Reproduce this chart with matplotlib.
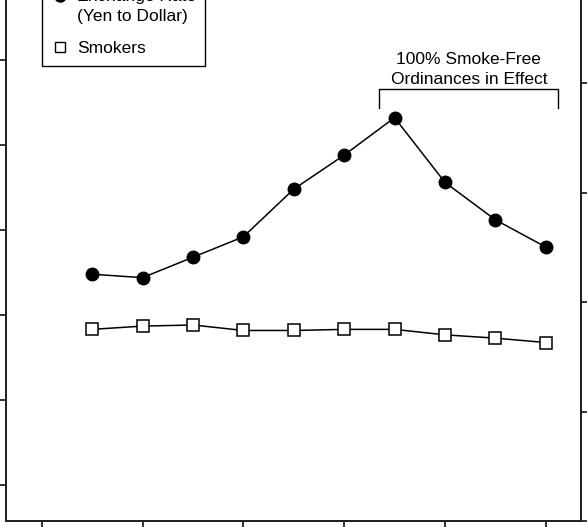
import matplotlib
matplotlib.use("Agg")
import matplotlib.pyplot as plt
from matplotlib.lines import Line2D
from matplotlib.legend_handler import HandlerLine2D

plt.rcParams['font.family'] = ['Liberation Sans', 'DejaVu Sans']

# data
years = [1989, 1990, 1991, 1992, 1993, 1994, 1995, 1996, 1997, 1998]
exchange_rate = [138, 139, 133, 127, 113, 103, 92, 111, 122, 130]   # yen per dollar (left axis, inverted)
smokers = [17.5, 17.8, 17.9, 17.4, 17.4, 17.5, 17.5, 17.0, 16.7, 16.3]  # right axis
x_ticks = [1988, 1990, 1992, 1994, 1996, 1998]
left_ticks = [75, 100, 125, 150, 175, 200]
right_ticks = [0, 10, 20, 30, 40]
ordinance_start = 1994.7
ordinance_end = 1998.25
ordinance_label = "100% Smoke-Free\nOrdinances in Effect"


class TopLineHandler(HandlerLine2D):
    # put the marker next to the first line of a two-line label
    def __init__(self, shift, **kw):
        super().__init__(**kw)
        self.shift = shift

    def create_artists(self, legend, orig_handle, xdescent, ydescent,
                       width, height, fontsize, trans):
        return super().create_artists(legend, orig_handle, xdescent,
                                      ydescent - 2 * self.shift, width, height,
                                      fontsize, trans)


W, H = 587, 527
fig = plt.figure(figsize=(W / 100, H / 100), dpi=100)
# the visible picture is a crop of a larger chart: the axes run past the top edge
ax = fig.add_axes([6 / W, 6 / H, 575 / W, 581 / H])
ax2 = ax.twinx()

ax.set_xlim(1987.29, 1998.70)
ax.set_ylim(210.5, 39.8)
ax2.set_ylim(0, 53.06)

ax.plot(years, exchange_rate, color='black', lw=1.1, marker='o', ms=9,
        mfc='black', mec='black', zorder=3)
ax2.plot(years, smokers, color='black', lw=1.1, marker='s', ms=8,
         mfc='white', mec='black', mew=1.1, zorder=3)

# bracket for smoke-free ordinances
br_top, br_foot = 83.5, 89.2
ax.plot([ordinance_start, ordinance_start, ordinance_end, ordinance_end],
        [br_foot, br_top, br_top, br_foot], color='black', lw=1.0)
ax.text((ordinance_start + ordinance_end) / 2, br_top - 0.6, ordinance_label,
        ha='center', va='bottom', multialignment='center', fontsize=12.5,
        linespacing=1.4)

for a in (ax, ax2):
    a.spines['top'].set_visible(False)
    for s in a.spines.values():
        s.set_linewidth(1.4)
        s.set_color('#222222')
ax.set_xticks(x_ticks)
ax.set_yticks(left_ticks)
ax2.set_yticks(right_ticks)
ax.tick_params(axis='both', direction='out', length=8, width=1.3,
               labelleft=False, labelbottom=False, color='#222222')
ax2.tick_params(axis='y', direction='out', length=8, width=1.3,
                labelright=False, color='#222222')

h_rate = Line2D([], [], ls='none', marker='o', ms=8, mfc='black', mec='black')
h_smk = Line2D([], [], ls='none', marker='s', ms=6.5, mfc='white', mec='black', mew=1.0)
labels = ["Exchange Rate\n(Yen to Dollar)", "Smokers"]
leg = ax2.legend([h_rate, h_smk], labels, loc='lower left',
                 bbox_to_anchor=(42 / W, 461 / H),
                 bbox_transform=fig.transFigure, borderaxespad=0, fontsize=12.5,
                 frameon=True, fancybox=False, framealpha=1, edgecolor='black',
                 borderpad=0.55, handlelength=1.03, handletextpad=0.42,
                 labelspacing=1.0,
                 handler_map={h_rate: TopLineHandler(shift=7.6)})
leg.get_frame().set_linewidth(1.0)
leg.get_texts()[0].set_linespacing(1.4)

fig.savefig("out.png", dpi=100)
